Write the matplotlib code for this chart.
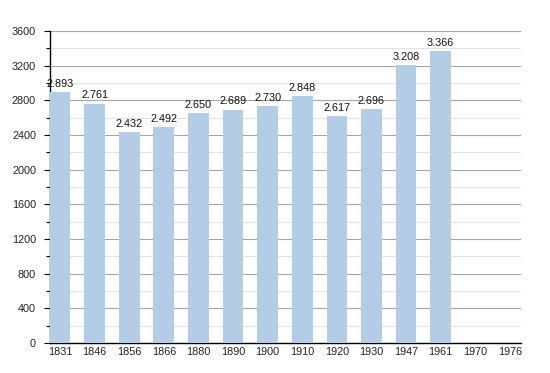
import matplotlib
matplotlib.use("Agg")
import matplotlib.pyplot as plt
from matplotlib.ticker import MultipleLocator

plt.rcParams["font.family"] = ["Liberation Sans", "DejaVu Sans"]

years = ["1831", "1846", "1856", "1866", "1880", "1890", "1900", "1910",
         "1920", "1930", "1947", "1961", "1970", "1976"]
population = [2893, 2761, 2432, 2492, 2650, 2689, 2730, 2848,
              2617, 2696, 3208, 3366, None, None]
labels = ["2.893", "2.761", "2.432", "2.492", "2.650", "2.689", "2.730",
          "2.848", "2.617", "2.696", "3.208", "3.366", "", ""]

fig = plt.figure(figsize=(5.5, 3.73), dpi=100)
ax = fig.add_axes([50/550, 30/373, 471/550, 312/373])

xs = list(range(len(years)))
for x, v, lab in zip(xs, population, labels):
    if v is None:
        continue
    ax.bar(x, v, width=0.6, color="#b3cde6", zorder=3)
    ax.text(x, v + 40, lab, ha="center", va="bottom", fontsize=7.8,
            color="#111111", zorder=4)

ax.set_xlim(-0.29, len(years) - 1 + 0.32)
ax.set_ylim(0, 3600)
ax.set_xticks(xs)
ax.set_xticklabels(years, fontsize=7.8, color="#222222")
ax.tick_params(axis="x", length=0, pad=3)
ax.yaxis.set_major_locator(MultipleLocator(400))
ax.yaxis.set_minor_locator(MultipleLocator(200))
ax.tick_params(axis="y", which="major", length=4, width=0.8, labelsize=7.8,
               labelcolor="#222222", pad=6)
ax.tick_params(axis="y", which="minor", length=3, width=0.8)
ax.grid(axis="y", which="major", color="#a6a6a6", linewidth=0.8, zorder=0)
ax.grid(axis="y", which="minor", color="#e3e3e3", linewidth=0.8, zorder=0)
for s in ["top", "right"]:
    ax.spines[s].set_visible(False)
ax.spines["left"].set_linewidth(1.0)
ax.spines["bottom"].set_linewidth(1.0)
ax.set_axisbelow(True)

fig.savefig("out.png", dpi=100)
